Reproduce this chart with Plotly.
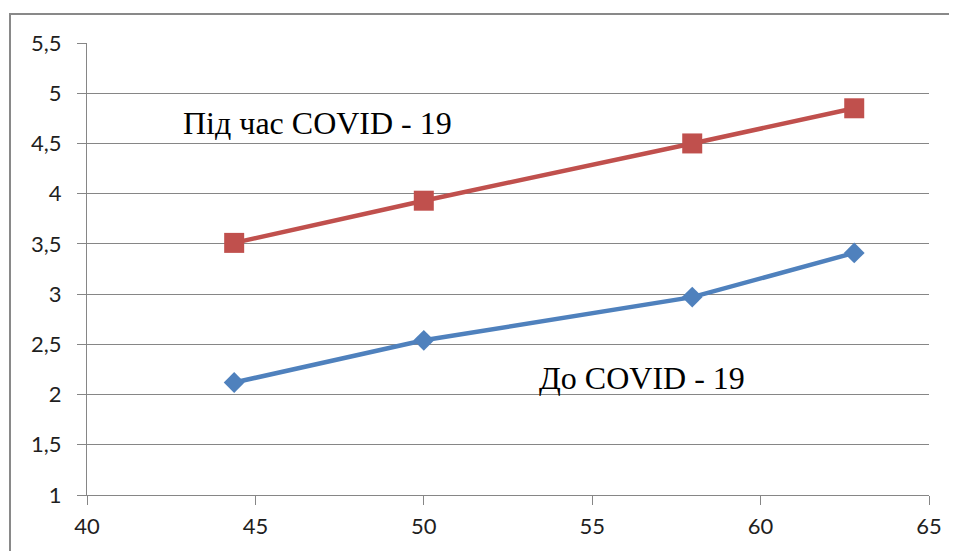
import plotly.graph_objects as go

# ---- data ----
x_values = [44.37, 50.0, 57.97, 62.78]
before_covid = [2.12, 2.54, 2.97, 3.41]
during_covid = [3.51, 3.93, 4.50, 4.85]
series_before_label = "До COVID - 19"
series_during_label = "Під час COVID - 19"
x_tick_vals = [40, 45, 50, 55, 60, 65]
x_tick_text = ["40", "45", "50", "55", "60", "65"]
y_tick_vals = [1, 1.5, 2, 2.5, 3, 3.5, 4, 4.5, 5, 5.5]
y_tick_text = ["1", "1,5", "2", "2,5", "3", "3,5", "4", "4,5", "5", "5,5"]

# page body has an 8px margin, so the figure is sized/offset to compensate
OFF = 8
W, H = 957 - OFF, 551 - OFF
L, R, T, B = 87 - OFF, 28, 43 - OFF, 56
pw, ph = W - L - R, H - T - B

fig = go.Figure()
fig.add_trace(go.Scatter(
    x=x_values, y=before_covid, mode="lines+markers", name=series_before_label,
    line=dict(color="#4F81BD", width=4.5),
    marker=dict(symbol="diamond", size=16, color="#4F81BD"),
))
fig.add_trace(go.Scatter(
    x=x_values, y=during_covid, mode="lines+markers", name=series_during_label,
    line=dict(color="#C0504D", width=4.5),
    marker=dict(symbol="square", size=20, color="#C0504D"),
))

serif = dict(family="Liberation Serif, Times New Roman, serif", size=32, color="#000000")
fig.add_annotation(x=42.78, y=4.70, xref="x", yref="y", text=series_during_label,
                   showarrow=False, xanchor="left", yanchor="middle", font=serif)
fig.add_annotation(x=53.36, y=2.16, xref="x", yref="y", text=series_before_label,
                   showarrow=False, xanchor="left", yanchor="middle", font=serif)

# outer chart frame (top-left corner visible, rest cropped)
def px_to_paper_x(px):
    return (px - OFF - L) / pw

def px_to_paper_y(py):
    return (H - B - (py - OFF)) / ph

fig.add_shape(type="rect", xref="paper", yref="paper",
              x0=px_to_paper_x(10), y0=px_to_paper_y(551 + 20),
              x1=px_to_paper_x(957 + 20), y1=px_to_paper_y(14),
              line=dict(color="#898989", width=2), fillcolor="rgba(0,0,0,0)", layer="below")

tickfont = dict(family="Lato, Carlito, sans-serif", size=22, color="#1f1f1f")
fig.update_layout(
    width=W, height=H,
    margin=dict(l=L, r=R, t=T, b=B, pad=0, autoexpand=False),
    paper_bgcolor="white", plot_bgcolor="white",
    showlegend=False,
    xaxis=dict(range=[40, 65], tickvals=x_tick_vals, ticktext=x_tick_text,
               showgrid=False, zeroline=False, showline=True, linecolor="#868686", linewidth=1,
               ticks="outside", ticklen=9, tickcolor="#868686", tickwidth=1,
               tickfont=tickfont, ticklabelstandoff=3, fixedrange=True),
    yaxis=dict(range=[1, 5.5], tickvals=y_tick_vals, ticktext=y_tick_text,
               showgrid=True, gridcolor="#868686", gridwidth=1,
               zeroline=False, showline=True, linecolor="#868686", linewidth=1,
               ticks="outside", ticklen=9, tickcolor="#868686", tickwidth=1,
               tickfont=tickfont, ticklabelstandoff=11, fixedrange=True),
)

fig.write_html("out.html")
